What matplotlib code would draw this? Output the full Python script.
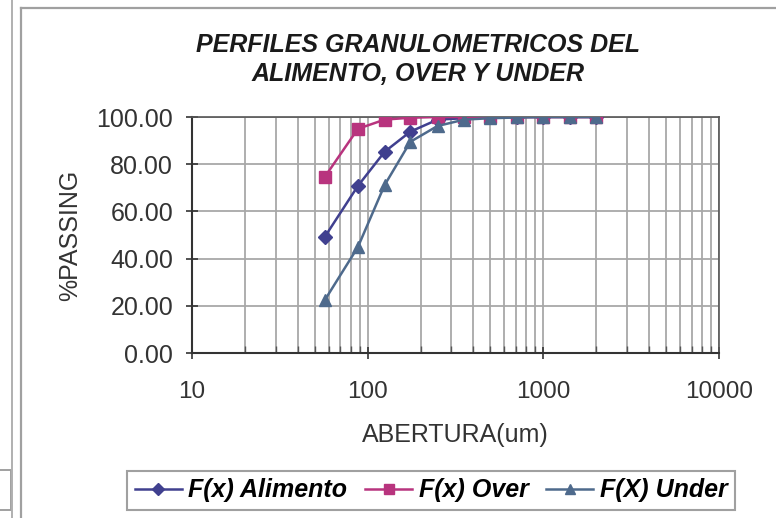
import numpy as np
import matplotlib.pyplot as plt
from matplotlib.lines import Line2D
from matplotlib.patches import Rectangle
from matplotlib.ticker import FixedLocator, NullFormatter

plt.rcParams['font.family'] = ['Liberation Sans', 'DejaVu Sans']

# Sieve openings (um) and cumulative % passing
abertura = [57, 88, 125, 175, 250, 355, 500, 710, 1000, 1410, 2000]
alimento = [49.2, 70.8, 85.3, 93.8, 98.9, 99.5, 99.8, 100.0, 100.0, 100.0, 100.0]
over = [74.6, 95.0, 98.9, 99.7, 100.0, 100.0, 100.0, 100.0, 100.0, 100.0, 100.0]
under = [22.4, 44.9, 71.2, 89.5, 96.2, 98.9, 99.5, 99.8, 100.0, 100.0, 100.0]

c_ali = '#40408f'
c_over = '#b8347e'
c_under = '#4e6a8c'

fig = plt.figure(figsize=(7.76, 5.18), dpi=100)
ax = fig.add_axes([0.2474, 0.3185, 0.6791, 0.4556])

ax.plot(abertura, alimento, color=c_ali, lw=1.8, marker='D', ms=7.5, zorder=3)
ax.plot(abertura, over, color=c_over, lw=1.8, marker='s', ms=8, zorder=3)
ax.plot(abertura, under, color=c_under, lw=1.8, marker='^', ms=9, zorder=4)

ax.set_xscale('log')
ax.set_xlim(10, 10000)
ax.set_ylim(0, 100)
ax.set_yticks(np.arange(0, 101, 20))
ax.set_yticklabels([f'{v:.2f}' for v in range(0, 101, 20)])
ax.set_xticks([10, 100, 1000, 10000])
ax.set_xticklabels(['10', '100', '1000', '10000'])
minors = [m * 10 ** e for e in range(1, 4) for m in range(2, 10)]
ax.xaxis.set_minor_locator(FixedLocator(minors))
ax.xaxis.set_minor_formatter(NullFormatter())

ax.grid(True, which='both', axis='x', color='#a8a8a8', lw=1.3)
ax.grid(True, which='major', axis='y', color='#a8a8a8', lw=1.3)
ax.set_axisbelow(True)

for s in ['left', 'bottom']:
    ax.spines[s].set_color('#333333')
    ax.spines[s].set_linewidth(1.5)
for s in ['top', 'right']:
    ax.spines[s].set_color('#555555')
    ax.spines[s].set_linewidth(1.2)

ax.tick_params(axis='y', which='major', direction='inout', length=9,
               width=1.2, labelsize=18, pad=9, colors='#333333')
ax.tick_params(axis='x', which='major', direction='inout', length=9,
               width=1.2, labelsize=17.5, pad=16, colors='#333333')
ax.tick_params(axis='x', which='minor', direction='in', length=5,
               width=1.0, colors='#555555')

ax.set_ylabel('%PASSING', fontsize=18, color='#333333', labelpad=10)
ax.set_xlabel('ABERTURA(um)', fontsize=18, color='#333333', labelpad=14)

fig.text(0.539, 0.885, 'PERFILES GRANULOMETRICOS DEL\nALIMENTO, OVER Y UNDER',
         ha='center', va='center', fontsize=18, fontweight='bold',
         fontstyle='italic', color='#1a1a1a', linespacing=1.3)

# legend entries with the smaller markers used in the key
handles = [
    Line2D([], [], color=c_ali, lw=1.8, marker='D', ms=6),
    Line2D([], [], color=c_over, lw=1.8, marker='s', ms=6.5),
    Line2D([], [], color=c_under, lw=1.8, marker='^', ms=7),
]
labels = ['F(x) Alimento', 'F(x) Over', 'F(X) Under']
leg = ax.legend(handles, labels, loc='center', bbox_to_anchor=(0.5554, 0.0531),
                bbox_transform=fig.transFigure, ncol=3, frameon=True,
                fancybox=False, edgecolor='#888888', handlelength=1.9,
                handletextpad=0.25, columnspacing=0.7, borderpad=0.3,
                prop={'size': 18, 'weight': 'bold', 'style': 'italic'})
leg.get_frame().set_linewidth(1.5)

# chart area borders
W, H = 776, 518
fig.add_artist(Line2D([21 / W, 21 / W], [0, 1 - 8 / H], color='#a0a0a0', lw=1.6))
fig.add_artist(Line2D([21 / W, 1], [1 - 8 / H, 1 - 8 / H], color='#a0a0a0', lw=1.6))
fig.add_artist(Line2D([12 / W, 12 / W], [0, 1], color='#b0b0b0', lw=1.4))
fig.add_artist(Rectangle((-0.01, 1 - 510 / H), 10.5 / W + 0.01, 40 / H,
                         transform=fig.transFigure, fill=False,
                         edgecolor='#a0a0a0', lw=1.4))

fig.savefig('out.png', dpi=100)
